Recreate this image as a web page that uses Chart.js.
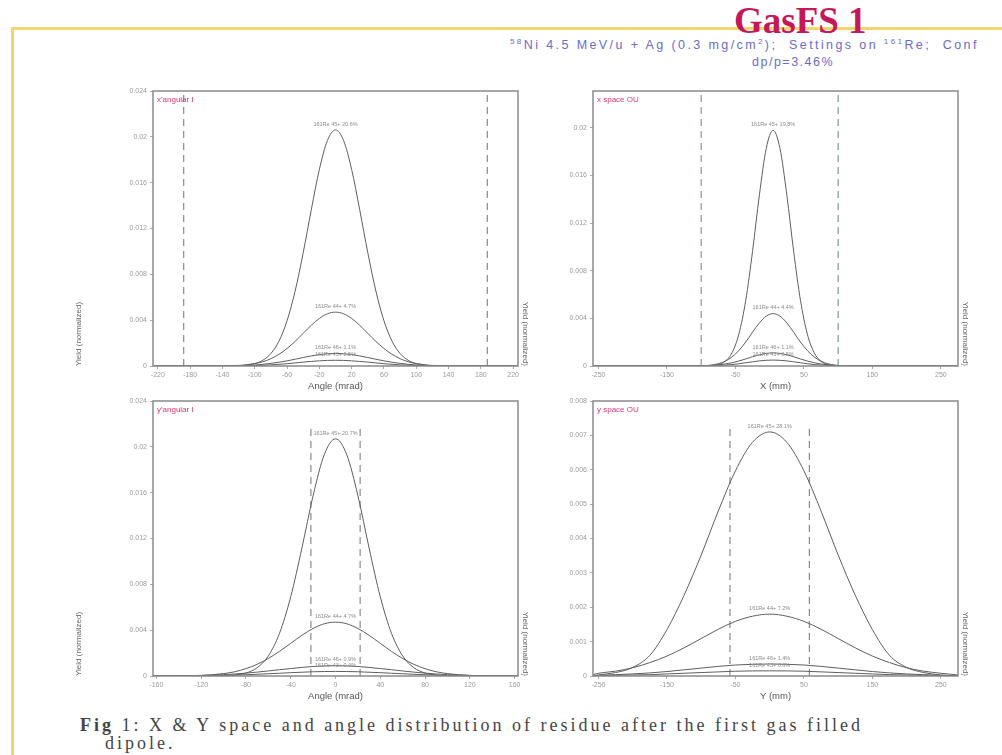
<!DOCTYPE html>
<html>
<head>
<meta charset="utf-8">
<script src="https://cdn.jsdelivr.net/npm/chart.js@4.4.0/dist/chart.umd.min.js"></script>
<style>
body { margin:0; background:#fff; width:1002px; height:755px; overflow:hidden; position:relative; font-family:"Liberation Sans", Arial, sans-serif; }
.frame { position:absolute; left:11px; top:27px; width:991px; height:728px; border-top:3px solid #f3d56c; border-left:3px solid #f3d56c; }
#title { position:absolute; left:734px; top:-1px; font:bold 37px "Liberation Serif", serif; color:#c4185a; }
#sub1 { position:absolute; left:510px; top:37px; font:12.5px "Liberation Sans", sans-serif; color:#6b6bc9; letter-spacing:2.4px; white-space:nowrap; }
#sub2 { position:absolute; left:752px; top:55px; font:12.5px "Liberation Sans", sans-serif; color:#6b6bc9; letter-spacing:1.5px; }
canvas { position:absolute; }
#cap1 { position:absolute; left:80px; top:715px; font:18px "Liberation Serif", serif; color:#444; letter-spacing:3px; white-space:nowrap; }
#cap2 { position:absolute; left:105px; top:733px; font:18px "Liberation Serif", serif; color:#444; letter-spacing:3px; }
</style>
</head>
<body>
<div class="frame"></div>
<div id="title">GasFS 1</div>
<div id="sub1"><sup style="font-size:8px">58</sup>Ni 4.5 MeV/u + Ag (0.3 mg/cm<sup style="font-size:8px">2</sup>);&nbsp; Settings on <sup style="font-size:8px">161</sup>Re;&nbsp; Conf</div>
<div id="sub2">dp/p=3.46%</div>

<canvas id="c1" width="470" height="320" style="left:60px;top:80px"></canvas>
<canvas id="c2" width="470" height="320" style="left:500px;top:80px"></canvas>
<canvas id="c3" width="470" height="320" style="left:60px;top:390px"></canvas>
<canvas id="c4" width="470" height="320" style="left:500px;top:390px"></canvas>

<div id="cap1"><b>Fig</b> 1: X &amp; Y space and angle distribution of residue after the first gas filled</div>
<div id="cap2">dipole.</div>

<script>
// x' angular
var xAngX = [-226,-120,-110,-100,-90,-80,-70,-60,-50,-40,-30,-20,-10,0,10,20,30,40,50,60,70,80,90,100,110,120,226];
var xAngMain = [0,0.00003,0.00008,0.00021,0.0005,0.00109,0.00217,0.00395,0.00654,0.00988,0.01363,0.01715,0.01968,0.0206,0.01968,0.01715,0.01363,0.00988,0.00654,0.00395,0.00217,0.00109,0.0005,0.00021,0.00008,0.00003,0];
var xAngSecond = [0,0.00005,0.00011,0.00021,0.00037,0.00064,0.00102,0.00153,0.00215,0.00285,0.00355,0.00415,0.00456,0.0047,0.00456,0.00415,0.00355,0.00285,0.00215,0.00153,0.00102,0.00064,0.00037,0.00021,0.00011,0.00005,0];
var xAngThird = [0,0.00003,0.00006,0.00009,0.00015,0.00023,0.00033,0.00045,0.00059,0.00074,0.00088,0.001,0.00107,0.0011,0.00107,0.001,0.00088,0.00074,0.00059,0.00045,0.00033,0.00023,0.00015,0.00009,0.00006,0.00003,0];
var xAngFourth = [0,0.00001,0.00003,0.00004,0.00007,0.0001,0.00015,0.0002,0.00027,0.00034,0.0004,0.00045,0.00049,0.0005,0.00049,0.00045,0.0004,0.00034,0.00027,0.0002,0.00015,0.0001,0.00007,0.00004,0.00003,0.00001,0];
var xAngTicks = [-220,-180,-140,-100,-60,-20,20,60,100,140,180,220];
var xAngGates = [-188, 188];
var xAngLabels = ['161Re 45+ 20.6%', '161Re 44+ 4.7%', '161Re 46+ 1.1%', '161Re 43+ 0.5%'];

// x space
var xSpX = [-258,-95,-85,-75,-65,-55,-45,-35,-25,-15,-5,5,15,25,35,45,55,65,75,85,95,105,275];
var xSpMain = [0,0,0.00003,0.00012,0.00039,0.00111,0.00268,0.0055,0.00964,0.01438,0.01828,0.0198,0.01828,0.01438,0.00964,0.0055,0.00268,0.00111,0.00039,0.00012,0.00003,0,0];
var xSpSecond = [0,0.00003,0.00008,0.00019,0.0004,0.00076,0.0013,0.00201,0.00284,0.00362,0.00419,0.0044,0.00419,0.00362,0.00284,0.00201,0.0013,0.00076,0.0004,0.00019,0.00008,0.00003,0];
var xSpThird = [0,0.00002,0.00005,0.00009,0.00017,0.00027,0.00042,0.00059,0.00078,0.00094,0.00106,0.0011,0.00106,0.00094,0.00078,0.00059,0.00042,0.00027,0.00017,0.00009,0.00005,0.00002,0];
var xSpFourth = [0,0.00001,0.00002,0.00004,0.00008,0.00012,0.00019,0.00027,0.00035,0.00043,0.00048,0.0005,0.00048,0.00043,0.00035,0.00027,0.00019,0.00012,0.00008,0.00004,0.00002,0.00001,0];
var xSpTicks = [-250,-150,-50,50,150,250];
var xSpGates = [-100, 100];
var xSpLabels = ['161Re 45+ 19.8%', '161Re 44+ 4.4%', '161Re 46+ 1.1%', '161Re 43+ 0.5%'];

// y' angular
var yAngX = [-163,-120,-110,-100,-90,-80,-70,-60,-50,-40,-30,-20,-10,0,10,20,30,40,50,60,70,80,90,100,110,120,163];
var yAngMain = [0,0,0,0.00002,0.00008,0.00026,0.00072,0.00175,0.00373,0.00691,0.01117,0.01574,0.01933,0.0207,0.01933,0.01574,0.01117,0.00691,0.00373,0.00175,0.00072,0.00026,0.00008,0.00002,0,0,0];
var yAngSecond = [0,0.00005,0.00011,0.00021,0.00037,0.00064,0.00102,0.00153,0.00215,0.00285,0.00355,0.00415,0.00456,0.0047,0.00456,0.00415,0.00355,0.00285,0.00215,0.00153,0.00102,0.00064,0.00037,0.00021,0.00011,0.00005,0];
var yAngThird = [0,0.00005,0.00008,0.00012,0.00018,0.00025,0.00034,0.00044,0.00055,0.00065,0.00075,0.00083,0.00088,0.0009,0.00088,0.00083,0.00075,0.00065,0.00055,0.00044,0.00034,0.00025,0.00018,0.00012,0.00008,0.00005,0];
var yAngFourth = [0,0.00002,0.00004,0.00005,0.00008,0.00011,0.00015,0.0002,0.00024,0.00029,0.00033,0.00037,0.00039,0.0004,0.00039,0.00037,0.00033,0.00029,0.00024,0.0002,0.00015,0.00011,0.00008,0.00005,0.00004,0.00002,0];
var yAngTicks = [-160,-120,-80,-40,0,40,80,120,160];
var yAngGates = [-22, 22];
var yAngLabels = ['161Re 45+ 20.7%', '161Re 44+ 4.7%', '161Re 46+ 0.9%', '161Re 43+ 0.4%'];

// y space
var ySpX = [-258,-250,-225,-200,-175,-150,-125,-100,-75,-50,-25,0,25,50,75,100,125,150,175,200,225,250,275];
var ySpMain = [0,0.00003,0.0001,0.00025,0.0006,0.00135,0.00235,0.00352,0.0048,0.00597,0.0068,0.0071,0.0068,0.00597,0.0048,0.00352,0.00235,0.00135,0.0006,0.00025,0.0001,0.00003,0];
var ySpSecond = [0.00004,0.00008,0.00014,0.00024,0.00039,0.00058,0.00082,0.00109,0.00136,0.00159,0.00174,0.0018,0.00174,0.00159,0.00136,0.00109,0.00082,0.00058,0.00039,0.00024,0.00014,0.00008,0.00003];
var ySpThird = [0.00001,0.00002,0.00004,0.00006,0.00009,0.00013,0.00018,0.00023,0.00028,0.00032,0.00034,0.00035,0.00034,0.00032,0.00028,0.00023,0.00018,0.00013,0.00009,0.00006,0.00004,0.00002,0.00001];
var ySpFourth = [0,0.00001,0.00002,0.00003,0.00004,0.00006,0.00008,0.0001,0.00012,0.00014,0.000148,0.00015,0.000148,0.00014,0.00012,0.0001,0.00008,0.00006,0.00004,0.00003,0.00002,0.00001,0];
var ySpTicks = [-250,-150,-50,50,150,250];
var ySpGates = [-58, 58];
var ySpLabels = ['161Re 45+ 28.1%', '161Re 44+ 7.2%', '161Re 46+ 1.4%', '161Re 43+ 0.6%'];

var yTicks024 = [0,0.004,0.008,0.012,0.016,0.02,0.024];
var yTicks020 = [0,0.004,0.008,0.012,0.016,0.02];
var yTicks008 = [0,0.001,0.002,0.003,0.004,0.005,0.006,0.007,0.008];


// frame round the plot, corner name and peak labels
var plotDeco = {
    id: 'plotDeco',
    afterDatasetsDraw: function (chart, args, opts) {
        var ctx = chart.ctx, a = chart.chartArea;
        var xs = chart.scales.x, ys = chart.scales.y;
        ctx.save();
        ctx.strokeStyle = '#8a8a8a';
        ctx.lineWidth = 1.5;
        ctx.strokeRect(a.left, a.top, a.right - a.left, a.bottom - a.top);

        ctx.fillStyle = '#d23a74';
        ctx.font = '8px "Liberation Sans", sans-serif';
        ctx.textBaseline = 'middle';
        ctx.fillText(opts.corner, a.left + 4, a.top + 9);

        ctx.fillStyle = '#8a8a8a';
        ctx.font = '5.5px "Liberation Sans", sans-serif';
        ctx.textAlign = 'center';
        ctx.textBaseline = 'bottom';
        opts.peaks.forEach(function (p) {
            ctx.fillText(p.text, xs.getPixelForValue(p.x), ys.getPixelForValue(p.y) - 3);
        });
        ctx.restore();
    }
};

function makePlot(id, xs, curves, labels, gates, gateTop, gateColor, xMin, xMax, xTicks, yMax, yTicks, xTitle, corner, leftTitle) {
    var datasets = [];
    var peaks = [];
    curves.forEach(function (c, k) {
        var pts = [];
        var best = 0;
        for (var i = 0; i < xs.length; i++) {
            pts.push({ x: xs[i], y: c[i] });
            if (c[i] > c[best]) best = i;
        }
        peaks.push({ x: xs[best], y: c[best], text: labels[k] });
        datasets.push({
            data: pts, showLine: true, borderColor: '#5e5e5e', borderWidth: 1,
            pointRadius: 0, cubicInterpolationMode: 'monotone', fill: false
        });
    });
    gates.forEach(function (g) {
        datasets.push({
            data: [{ x: g, y: 0 }, { x: g, y: gateTop }], showLine: true,
            borderColor: gateColor, borderWidth: 1.2, borderDash: [7, 5], pointRadius: 0
        });
    });

    new Chart(document.getElementById(id).getContext('2d'), {
        type: 'scatter',
        data: { datasets: datasets },
        plugins: [plotDeco],
        options: {
            responsive: false,
            animation: false,
            layout: { padding: { top: 11, left: 0, right: 0, bottom: 8 } },
            plugins: {
                legend: { display: false },
                tooltip: { enabled: false },
                plotDeco: { corner: corner, peaks: peaks }
            },
            scales: {
                x: {
                    type: 'linear', min: xMin, max: xMax,
                    afterBuildTicks: function (s) { s.ticks = xTicks.map(function (v) { return { value: v }; }); },
                    afterFit: function (s) { s.height = 26; },
                    ticks: { color: '#9a9a9a', font: { size: 7 }, maxRotation: 0, autoSkip: false, padding: 2,
                             callback: function (v) { return String(v); } },
                    grid: { drawOnChartArea: false, tickLength: 3, color: '#aaa' },
                    border: { display: false },
                    title: { display: true, text: xTitle, color: '#555', font: { size: 9.5 }, padding: { top: 1, bottom: 0 } }
                },
                y: {
                    min: 0, max: yMax,
                    afterBuildTicks: function (s) { s.ticks = yTicks.map(function (v) { return { value: v }; }); },
                    afterFit: function (s) { s.width = 93; },
                    ticks: { color: '#9a9a9a', font: { size: 7 }, padding: 3,
                             callback: function (v) { return String(+v.toFixed(4)); } },
                    grid: { drawOnChartArea: false, tickLength: 3, color: '#aaa' },
                    border: { display: false },
                    title: { display: leftTitle, text: 'Yield (normalized)', color: '#666', font: { size: 8 },
                             align: 'start', padding: { top: 14, bottom: 0 } }
                },
                y2: {
                    position: 'right', min: 0, max: 1,
                    afterFit: function (s) { s.width = 12; },
                    ticks: { display: false },
                    grid: { display: false },
                    border: { display: false },
                    title: { display: true, text: 'Yield (normalized)', color: '#666', font: { size: 8 }, align: 'start', padding: 0 }
                }
            }
        }
    });
}

makePlot('c1', xAngX, [xAngMain, xAngSecond, xAngThird, xAngFourth], xAngLabels, xAngGates, 0.024, '#8a8a8a',
    -226, 226, xAngTicks, 0.024, yTicks024, 'Angle (mrad)', "x'angular I", true);
makePlot('c2', xSpX, [xSpMain, xSpSecond, xSpThird, xSpFourth], xSpLabels, xSpGates, 0.0231, '#7f9a8c',
    -258, 275, xSpTicks, 0.0231, yTicks020, 'X (mm)', 'x space OU', false);
makePlot('c3', yAngX, [yAngMain, yAngSecond, yAngThird, yAngFourth], yAngLabels, yAngGates, 0.0217, '#8a8a8a',
    -163, 163, yAngTicks, 0.024, yTicks024, 'Angle (mrad)', "y'angular I", true);
makePlot('c4', ySpX, [ySpMain, ySpSecond, ySpThird, ySpFourth], ySpLabels, ySpGates, 0.00724, '#8a8a8a',
    -258, 275, ySpTicks, 0.008, yTicks008, 'Y (mm)', 'y space OU', false);
</script>
</body>
</html>
